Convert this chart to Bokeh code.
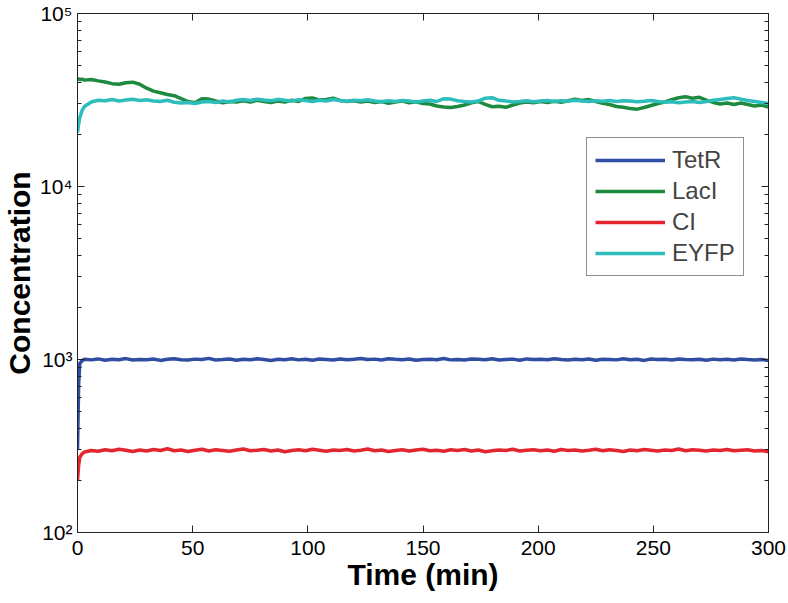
from bokeh.plotting import figure
from bokeh.models import (FixedTicker, LogAxis, LinearAxis, Legend, LegendItem,
                          CustomJSTickFormatter, Range1d)
from bokeh.embed import file_html
from bokeh.resources import INLINE

# ---------------- data ----------------
time = [0, 0.5, 1, 2] + list(range(3, 301, 3))

tetr = [300, 720, 950, 985,
        1002, 995, 1008, 990, 1004, 998, 1012, 993, 1001, 996,
        1006, 988, 1003, 1010, 997, 992, 1005, 1000, 1015, 994,
        999, 1007, 991, 1003, 996, 1009, 1000, 987, 1004, 998,
        1011, 995, 1002, 990, 1006, 1000, 993, 1008, 997, 1003,
        1012, 999, 1005, 994, 1010, 1002, 996, 1007, 989, 1001,
        1004, 998, 1013, 995, 1000, 992, 1006, 1003, 997, 1009,
        994, 1001, 1005, 990, 1008, 999, 1002, 996, 1011, 1000,
        993, 1004, 998, 1007, 991, 1003, 1000, 995, 1010, 997,
        1002, 988, 1006, 999, 1004, 993, 1008, 1001, 996, 1003,
        990, 1005, 998, 1002, 994, 1007, 999, 992, 1001, 985]

laci = [42000, 41800, 41500, 41700,
        41200, 41500, 40800, 40200, 39300, 39000, 39800, 40100, 39000, 37000,
        35600, 34800, 34000, 33500, 32200, 31000, 30500, 32200, 32000, 31200,
        30500, 31000, 30800, 31300, 30800, 31500, 31000, 30600, 31200, 30800,
        31500, 31000, 32300, 32500, 31600, 31800, 32400, 31400, 31000, 31300,
        30800, 31200, 30600, 31000, 30300, 30800, 31200, 30500, 30900, 30200,
        30000, 29200, 28800, 28600, 29000, 29600, 30500, 31000, 29800, 28900,
        29100, 28700, 29600, 30400, 30800, 30500, 31000, 30600, 31100, 30700,
        31300, 32000, 31400, 31800, 31000, 30300, 29800, 29000, 28700, 28200,
        28000, 28600, 29400, 30200, 30800, 31800, 32600, 33000, 32400, 32800,
        31600, 30600, 30000, 30400, 29800, 30400, 29800, 29200, 29600, 28800]

ci = [200, 245, 272, 285,
      292, 298, 295, 301, 297, 303, 299, 294, 300, 296,
      302, 298, 305, 297, 300, 294, 299, 303, 296, 301,
      298, 295, 300, 304, 297, 299, 302, 296, 300, 293,
      298, 301, 297, 303, 299, 295, 300, 298, 302, 296,
      299, 304, 297, 300, 294, 298, 301, 296, 300, 303,
      297, 299, 295, 301, 298, 302, 296, 300, 293, 297,
      300, 298, 303, 296, 299, 301, 297, 300, 295, 302,
      298, 300, 296, 299, 303, 297, 301, 298, 294, 300,
      297, 302, 299, 296, 300, 298, 304, 297, 301, 299,
      296, 300, 298, 302, 297, 299, 301, 296, 298, 293]

eyfp = [20500, 23000, 25000, 27500,
        29000, 30800, 31500, 31300, 31800, 31200, 31600, 31900, 31400, 31700,
        31200, 31000, 31500, 30700, 30400, 30600, 30200, 30800, 31000, 30600,
        31200, 30800, 31500, 31800, 31400, 32000, 31600, 31300, 31900, 31500,
        31200, 31700, 31400, 31000, 31500, 31200, 31800, 31400, 31100, 31500,
        31300, 31700, 31200, 30900, 31300, 31000, 31400, 31200, 30800, 31200,
        31500, 31000, 32200, 32000, 31300, 31000, 30800, 31200, 32400, 32600,
        31500, 31200, 30800, 31000, 31300, 30900, 31200, 31400, 31000, 31300,
        31100, 31500, 31200, 31000, 31300, 31100, 31400, 31000, 31300, 31200,
        30900, 31100, 31400, 31000, 30700, 30900, 30500, 30800, 31000, 30600,
        31000, 31500, 31800, 32300, 32600, 32000, 31400, 31000, 30600, 30200]

series_names = ["TetR", "LacI", "CI", "EYFP"]
series_values = [tetr, laci, ci, eyfp]
series_colors = ["#2f4ea3", "#1e8a3e", "#e3262d", "#2dbdbd"]

x_ticks = [0, 50, 100, 150, 200, 250, 300]
y_ticks = [100, 1000, 10000, 100000]
y_minor = [m * d for d in (100, 1000, 10000) for m in range(2, 10)]

FONT = "Liberation Sans"
AX = "#222222"

# ---------------- figure ----------------
p = figure(width=786, height=600, output_backend="svg", toolbar_location=None,
           y_axis_type="log", x_range=Range1d(0, 300), y_range=Range1d(100, 100000),
           min_border_left=10, min_border_right=18, min_border_top=13, min_border_bottom=68)
p.xgrid.visible = False
p.ygrid.visible = False
p.outline_line_color = AX
p.outline_line_width = 1
p.background_fill_color = "white"
p.border_fill_color = "white"

sup_fmt = CustomJSTickFormatter(code="""
const s = {"2": "\\u00b2", "3": "\\u00b3", "4": "\\u2074", "5": "\\u2075"};
const e = Math.round(Math.log10(tick));
return "10" + s[String(e)];
""")
blank_fmt = CustomJSTickFormatter(code="return '';")

xa = p.xaxis[0]
xa.ticker = FixedTicker(ticks=x_ticks)
xa.axis_label = "Time (min)"
ya = p.yaxis[0]
ya.ticker = FixedTicker(ticks=y_ticks, minor_ticks=y_minor)
ya.formatter = sup_fmt
ya.axis_label = "Concentration"

for ax in (xa, ya):
    ax.major_tick_in = 7
    ax.major_tick_out = 0
    ax.minor_tick_in = 4
    ax.minor_tick_out = 0
    ax.axis_line_color = AX
    ax.major_tick_line_color = AX
    ax.minor_tick_line_color = AX
    ax.major_label_text_font = FONT
    ax.major_label_text_font_size = "21px"
    ax.major_label_text_color = "black"
    ax.axis_label_text_font = FONT
    ax.axis_label_text_font_style = "bold"
    ax.axis_label_text_font_size = "30px"
    ax.axis_label_text_color = "black"
xa.major_label_standoff = 8
xa.axis_label_standoff = 0
ya.major_label_standoff = 5
ya.axis_label_standoff = 1

# mirrored tick axes (top / right), no labels
top = LinearAxis(ticker=FixedTicker(ticks=x_ticks), formatter=blank_fmt,
                 major_tick_in=7, major_tick_out=0, minor_tick_in=0, minor_tick_out=0,
                 major_label_standoff=0, axis_line_color=AX,
                 major_tick_line_color=AX)
right = LogAxis(ticker=FixedTicker(ticks=y_ticks, minor_ticks=y_minor), formatter=blank_fmt,
                major_tick_in=7, major_tick_out=0, minor_tick_in=4, minor_tick_out=0,
                major_label_standoff=0, axis_line_color=AX,
                major_tick_line_color=AX, minor_tick_line_color=AX)
p.add_layout(top, "above")
p.add_layout(right, "right")

items = []
for name, vals, col in zip(series_names, series_values, series_colors):
    r = p.line(time, vals, line_color=col, line_width=3.5)
    items.append(LegendItem(label=name, renderers=[r]))

legend = Legend(items=items, location=(509, 256), glyph_width=70, glyph_height=24,
                label_standoff=7, spacing=3, padding=8, margin=0,
                label_text_font=FONT, label_text_font_size="24px",
                border_line_color=AX, border_line_width=1,
                background_fill_alpha=1.0)
p.add_layout(legend, "center")

open("out.html", "w").write(file_html(p, INLINE))
